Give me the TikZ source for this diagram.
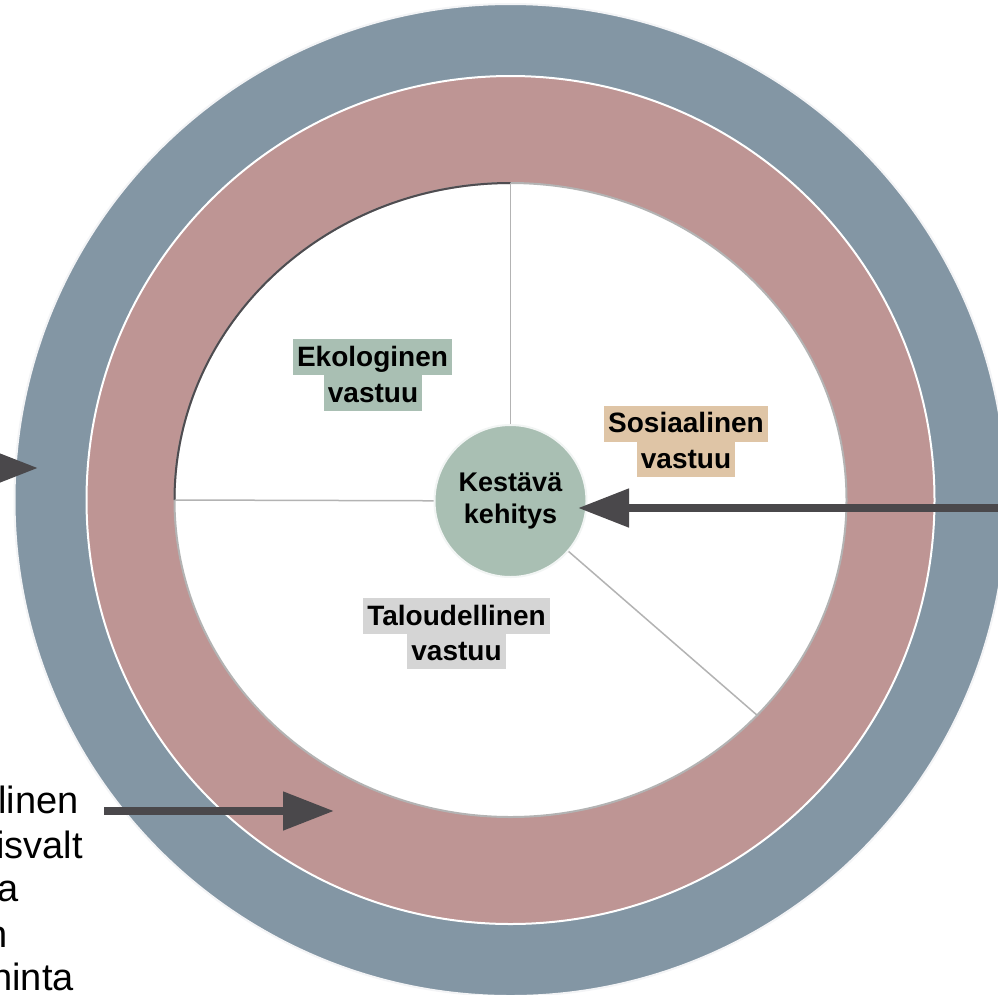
\documentclass[tikz,border=0pt]{standalone}
\usepackage{fontspec}
\setmainfont{Liberation Sans}
\usetikzlibrary{arrows.meta}
\definecolor{ringblue}{HTML}{8396A4}
\definecolor{ringpink}{HTML}{BE9594}
\definecolor{sage}{HTML}{A9BFB3}
\definecolor{tan}{HTML}{DFC5A6}
\definecolor{lgray}{HTML}{D5D5D5}
\definecolor{arrowc}{HTML}{4A484B}
\definecolor{divider}{HTML}{B3B3B3}
\definecolor{rimdark}{HTML}{4E4C50}
\tikzset{
  lbl/.style={font=\fontsize{28}{36}\selectfont\bfseries, inner xsep=4pt, inner ysep=0pt, text height=27pt, text depth=9pt, anchor=center},
  bigarrow/.style={draw=arrowc, line width=8pt, -{Triangle[length=51pt,width=37pt]}, arrowc},
  frag/.style={font=\fontsize{38}{44}\selectfont, anchor=base east, inner sep=0pt, text=black},
  divline/.style={draw=divider, line width=1.5pt}
}
\begin{document}
\begin{tikzpicture}[x=1pt,y=-1pt]
\useasboundingbox (0,0) rectangle (998,994);
\clip (0,0) rectangle (998,994);
\fill[white] (0,0) rectangle (998,994);
% rings
\draw[fill=ringblue, draw=white!90!ringblue, line width=2pt] (510.5,500) circle (496);
\draw[fill=ringpink, draw=white, line width=2pt] (510.5,500) circle (424);
\draw[fill=white, draw=divider, line width=2pt] (510.5,500) ellipse [x radius=336, y radius=317];
\draw[draw=rimdark, line width=2pt] (174.5,500) arc[start angle=180, end angle=270, x radius=336, y radius=317];
% center node
\node[circle, minimum size=152pt, fill=sage, draw=white!85!sage, line width=2pt, inner sep=0pt, align=center, font=\fontsize{27}{32}\selectfont\bfseries] (kk) at (510.5,501) {Kestävä\\kehitys};
\coordinate (dtop) at (510.5,183);
\coordinate (dleft) at (174.5,500);
\coordinate (ddiag) at (758,716);
\draw[divline] (kk) -- (dtop);
\draw[divline] (kk) -- (dleft);
\draw[divline] (kk) -- (ddiag);
% labels
\node[lbl, fill=sage] (eko1) at (372.5,357) {Ekologinen};
\node[lbl, fill=sage] (eko2) at (373,393) {vastuu};
\node[lbl, fill=tan] (sos1) at (686,423.5) {Sosiaalinen};
\node[lbl, fill=tan] (sos2) at (686,459) {vastuu};
\node[lbl, fill=lgray] (tal1) at (456.5,616) {Taloudellinen};
\node[lbl, fill=lgray] (tal2) at (456.5,651) {vastuu};
% arrows
\coordinate (rstart) at (1010,508);
\coordinate (rtip) at (578,508);
\draw[bigarrow] (rstart) -- (rtip);
\coordinate (lstart) at (-120,468);
\coordinate (ltip) at (38,468);
\draw[bigarrow] (lstart) -- (ltip);
\coordinate (bstart) at (104,811);
\coordinate (btip) at (334,811);
\draw[bigarrow] (bstart) -- (btip);
% clipped left text
\node[frag] (t1) at (79,813) {linen};
\node[frag] (t2) at (83,858) {isvalt};
\node[frag] (t3) at (19,901) {a};
\node[frag] (t4) at (8,947) {n};
\node[frag] (t5) at (74,990) {hinta};
\end{tikzpicture}
\end{document}
